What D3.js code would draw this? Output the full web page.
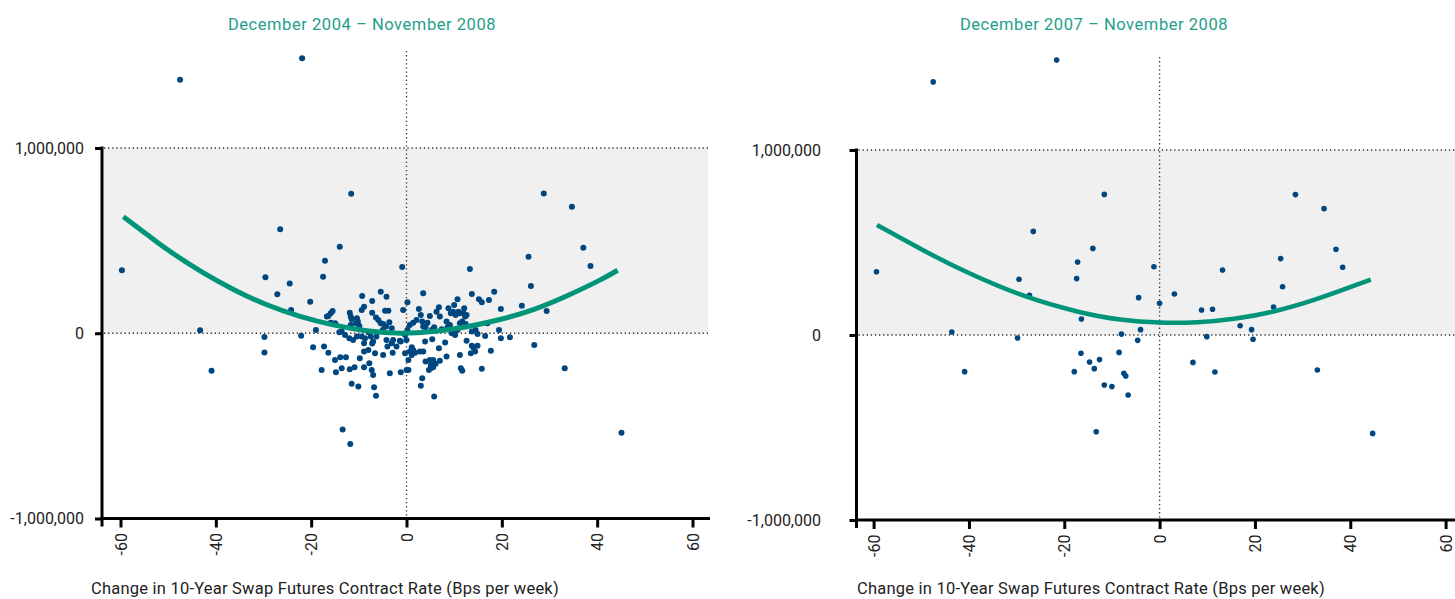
<!DOCTYPE html>
<html>
<head>
<meta charset="utf-8">
<script src="https://cdn.jsdelivr.net/npm/d3@7"></script>
<style>
  body { margin: 0; background: #fff; }
  svg text { font-family: Roboto, "Noto Sans", sans-serif; }
</style>
</head>
<body>
<div id="chart"></div>
<script>
// ---- data (x = bps per week, y = thousands) ----
const titles = ["December 2004 \u2013 November 2008", "December 2007 \u2013 November 2008"];
const xLabel = "Change in 10-Year Swap Futures Contract Rate (Bps per week)";
const xTicks = [-60, -40, -20, 0, 20, 40, 60];
const yTicks = [-1000, 0, 1000];

// Dec 2004 - Nov 2008 weekly observations
const pointsAll = [
  [-59.7,340],[-47.5,1368],[-43.3,16],[-40.9,-203],[-21.9,1484],
  [-29.6,302],[-26.5,562],[-24.5,268],[-27.1,210],[-24.2,126],[-22.1,-13],[-29.8,-20],[-29.8,-104],
  [-11.6,753],[-14.0,467],[-17.1,392],[-0.9,358],[13.3,347],[-13.4,-520],[-11.8,-598],
  [28.8,755],[34.7,683],[37.1,462],[38.6,363],[25.6,413],[26.1,255],[29.4,120],[24.2,149],[26.8,-63],[33.2,-189],[45.1,-537],
  [-17.5,305],[-9.3,201],[-5.4,224],[-4.2,197],[-7.2,174],[0.2,167],[-20.2,170],[-8.9,143],[-9.4,126],[-7.2,111],
  [-4.5,122],[-3.8,122],[-0.7,126],[-15.5,120],[-15.9,108],[-16.4,93],[-16.7,90],
  [-11.9,111],[-11.7,90],[-11.5,75],[-10.4,81],[-10.2,63],[-10.6,54],[-9.9,39],[-11.7,45],
  [-6.4,85],[-5.9,72],[-5.4,54],[-4.9,50],[-4.3,36],[-5.0,18],[-3.1,27],[-3.6,60],
  [-15.0,54],[-15.9,57],[-19.0,18],[-14.1,5],[-14.9,49],
  [-13.6,9],[-12.9,-9],[-12.0,-27],[-11.2,-36],[-10.4,-18],[-9.4,-18],[-8.7,-27],[-7.5,-18],[-6.3,-18],
  [-4.2,-36],[-2.8,-36],[-1.4,-40],[0.0,-36],[-8.0,5],[-8.9,-54],[-7.2,-56],
  [-19.6,-75],[-17.3,-72],[-16.4,-105],[-15.0,-144],[-13.9,-129],[-12.7,-129],
  [-17.8,-198],[-14.8,-210],[-13.6,-189],[-11.9,-194],[-10.9,-183],
  [-9.8,-135],[-8.9,-99],[-8.0,-90],[-7.0,-45],[-6.6,-108],[-4.9,-117],
  [-8.9,-183],[-7.8,-162],[-7.3,-198],[-7.0,-225],
  [-11.5,-273],[-10.1,-288],[-6.8,-291],[-6.4,-338],
  [-3.5,-216],[-1.2,-210],[0.0,-198],
  [-4.0,-72],[-2.9,-105],[-2.1,-72],[-3.1,-54],[-1.2,-45],[-0.3,-108],
  [3.5,216],[13.7,212],[18.4,224],[15.2,183],[15.8,167],[17.3,180],[10.7,183],[19.8,131],
  [2.6,131],[3.0,99],[3.3,63],[1.4,57],[2.1,72],[0.7,45],
  [4.9,93],[4.4,57],[5.8,32],[5.3,18],[3.5,36],[4.0,32],
  [6.3,116],[6.8,140],[7.0,90],[8.4,63],[9.1,45],[8.6,32],[10.0,14],
  [8.8,135],[10.0,153],[10.9,116],[9.8,116],[9.3,108],[10.3,99],[11.2,108],[11.9,111],[12.3,90],
  [11.7,63],[12.6,99],[12.1,135],[11.2,54],[12.4,50],[10.7,18],[7.4,22],
  [9.5,0],[10.2,-9],[13.7,9],[14.5,18],[14.9,-4],[16.5,-15],[17.0,54],
  [19.4,18],[19.8,-27],[21.7,-22],
  [17.7,-94],[15.8,-192],[11.4,-189],[11.7,-202],
  [11.2,-117],[12.6,-40],[13.7,-68],[14.0,-76],[14.9,-68],[13.5,-108],[14.4,-99],
  [8.1,-50],[6.8,-81],[8.4,-126],[7.0,-148],
  [3.9,-45],[5.4,-32],[3.5,-99],
  [5.6,-144],[4.9,-144],[4.0,-153],[5.1,-171],[6.1,-165],[5.6,-183],[5.1,-189],[4.7,-198],
  [3.3,-243],[3.0,-283],[5.8,-342],
  [1.1,-76],[1.4,-90],[0.7,-99],[1.8,-105],[1.1,-117],[2.8,-99],[0.4,-144],[0.4,-198],[0.2,18],[-0.3,-9]
];

// Dec 2007 - Nov 2008 weekly observations
const pointsCrisis = [
  [-47.5,1368],[-21.6,1486],[-59.4,342],[-11.6,760],[-26.5,560],[-14.0,468],[-17.2,395],[-17.4,305],
  [-29.5,301],[-27.3,214],[-1.2,369],[-4.4,202],[0.0,171],[3.1,222],[-16.4,86],[-43.6,16],[-29.8,-16],
  [-4.0,29],[-8.0,5],[-4.6,-29],[-40.9,-198],[-16.5,-99],[-8.5,-94],[-14.7,-146],[-12.6,-133],
  [-17.9,-198],[-13.7,-182],[-7.5,-207],[-7.1,-222],[-11.6,-270],[-10.0,-279],[-6.6,-324],[-13.3,-523],
  [8.8,135],[11.1,139],[13.2,351],[9.9,-9],[7.0,-148],[11.6,-200],[16.9,50],[19.3,29],[19.6,-23],
  [23.9,151],[25.4,413],[25.8,261],[28.5,759],[34.5,683],[37.0,463],[38.4,366],[33.1,-189],[44.7,-532]
];

// fitted curves
const fitAllX = [-59.4, -53.8, -50.3, -43.3, -36.3, -29.3, -22.3, -15.4, -8.3, -1.4, 5.6, 12.6, 19.6, 26.6, 33.6, 40.6, 44.3];
const fitAllY = [629, 521, 452, 334, 234, 150, 89, 43, 11, -4, 7, 33, 72, 124, 200, 285, 340];
const fitCrisisX = [-59.3, -48.8, -40.7, -28.5, -16.4, -8.3, 0, 7.9, 16, 24.1, 32.2, 44.3];
const fitCrisisY = [595, 445, 340, 204, 118, 80, 64, 66, 86, 125, 184, 299];

// ---- layout ----
const W = 1455, H = 599;
const svg = d3.select("#chart").append("svg")
    .attr("width", W)
    .attr("height", H);

const panels = [
    { title: titles[0], points: pointsAll, fx: fitAllX, fy: fitAllY,
      xr: [120.5, 692.5], yr: [518.5, 148], axisX: 102, axisEnd: 710, shadeEnd: 708,
      titleX: 362, labelRight: 84, xTitleX: 91, zeroTop: 51, r: 3, lw: 5 },
    { title: titles[1], points: pointsCrisis, fx: fitCrisisX, fy: fitCrisisY,
      xr: [873.6, 1445.6], yr: [520, 150], axisX: 856.5, axisEnd: 1455, shadeEnd: 1455,
      titleX: 1094, labelRight: 821, xTitleX: 857, zeroTop: 57, r: 2.8, lw: 4.5 }
];

const dotColor = "#00467f";
const fitColor = "#009479";
const fmtY = d => d3.format(",")(d * 1000).replace("\u2212", "-");

panels.forEach(function(p) {
    const x = d3.scaleLinear().domain([-60, 60]).range(p.xr);
    const y = d3.scaleLinear().domain([-1000, 1000]).range(p.yr);
    const g = svg.append("g");

    // shaded positive band
    g.append("rect")
        .attr("x", p.axisX + 1.5)
        .attr("y", y(1000))
        .attr("width", p.shadeEnd - p.axisX - 1.5)
        .attr("height", y(0) - y(1000))
        .attr("fill", "#f0f0f0");

    // dotted reference lines
    [1000, 0].forEach(function(v) {
        g.append("line")
            .attr("x1", p.axisX + 2).attr("x2", p.shadeEnd)
            .attr("y1", y(v)).attr("y2", y(v))
            .attr("stroke", "#333").attr("stroke-width", 1.3)
            .attr("stroke-dasharray", "1.3,2.8");
    });
    g.append("line")
        .attr("x1", x(0)).attr("x2", x(0))
        .attr("y1", p.zeroTop).attr("y2", y(-1000))
        .attr("stroke", "#333").attr("stroke-width", 1.3)
        .attr("stroke-dasharray", "1.3,2.8");

    // points
    g.append("g").selectAll("circle")
        .data(p.points)
        .enter().append("circle")
        .attr("cx", d => x(d[0]))
        .attr("cy", d => y(d[1]))
        .attr("r", p.r)
        .attr("fill", dotColor);

    // fitted curve
    const line = d3.line()
        .x(d => x(d[0]))
        .y(d => y(d[1]))
        .curve(d3.curveBasis);
    g.append("path")
        .datum(p.fx.map((v, i) => [v, p.fy[i]]))
        .attr("d", line)
        .attr("fill", "none")
        .attr("stroke", fitColor)
        .attr("stroke-width", p.lw);

    // x axis
    const xa = g.append("g")
        .attr("transform", "translate(0," + y(-1000) + ")")
        .call(d3.axisBottom(x).tickValues(xTicks).tickSize(9).tickSizeOuter(0).tickFormat(d => String(d)));
    xa.select(".domain").remove();
    xa.selectAll(".tick line").attr("stroke", "#000").attr("stroke-width", 3);
    xa.selectAll(".tick text")
        .attr("transform", "rotate(-90)")
        .attr("x", -14.5).attr("y", 0).attr("dy", "0.35em")
        .attr("text-anchor", "end")
        .attr("fill", "#222")
        .style("font-size", "16px");
    g.append("line")
        .attr("x1", p.axisX - 1.5).attr("x2", p.axisEnd)
        .attr("y1", y(-1000)).attr("y2", y(-1000))
        .attr("stroke", "#000").attr("stroke-width", 3);

    // y axis
    const ya = g.append("g")
        .attr("transform", "translate(" + p.axisX + ",0)")
        .call(d3.axisLeft(y).tickValues(yTicks).tickSize(7).tickSizeOuter(0).tickFormat(() => ""));
    ya.select(".domain").remove();
    ya.selectAll(".tick line").attr("stroke", "#000").attr("stroke-width", 3);
    g.append("line")
        .attr("x1", p.axisX).attr("x2", p.axisX)
        .attr("y1", y(1000) - 1.5).attr("y2", y(-1000) + 8)
        .attr("stroke", "#000").attr("stroke-width", 3);

    g.append("g").selectAll("text")
        .data(yTicks)
        .enter().append("text")
        .attr("x", p.labelRight)
        .attr("y", d => y(d))
        .attr("dy", "0.35em")
        .attr("text-anchor", "end")
        .attr("fill", "#222")
        .style("font-size", "16px")
        .text(fmtY);

    // titles
    g.append("text")
        .attr("x", p.titleX).attr("y", 30)
        .attr("text-anchor", "middle")
        .attr("fill", "#1f9e89")
        .style("font-size", "16.5px")
        .style("letter-spacing", "0.55px")
        .text(p.title);

    g.append("text")
        .attr("x", p.xTitleX).attr("y", 594)
        .attr("fill", "#222")
        .style("font-size", "16.5px")
        .style("letter-spacing", "0.22px")
        .text(xLabel);
});
</script>
</body>
</html>
